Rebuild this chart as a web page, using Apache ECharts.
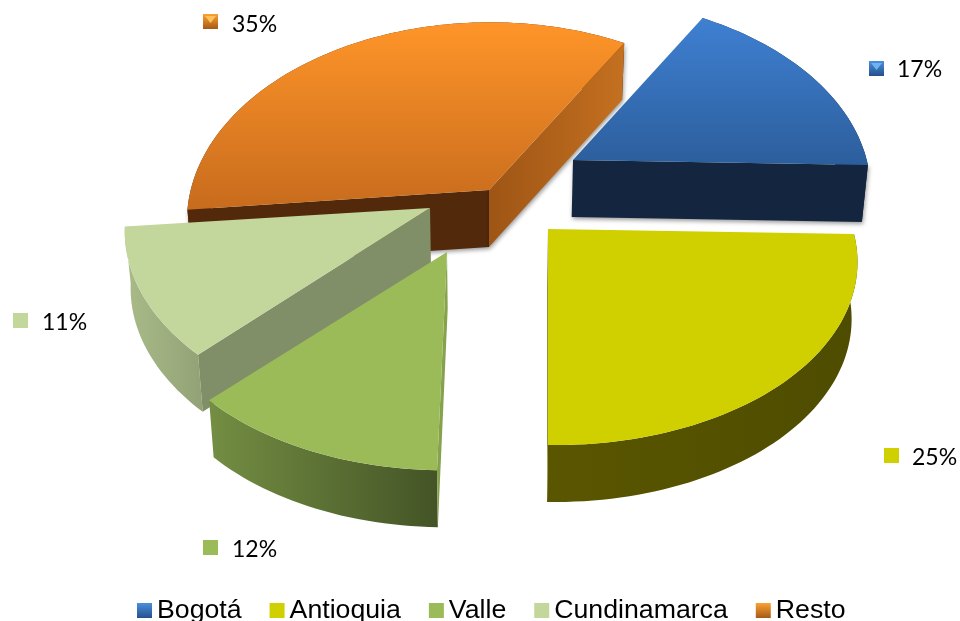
<!DOCTYPE html>
<html>
<head>
<meta charset="utf-8">
<title>Pie</title>
<script src="https://cdn.jsdelivr.net/npm/echarts@6/dist/echarts.min.js"></script>
<style>
html, body { margin: 0; padding: 0; background: #fff; }
#main { width: 960px; height: 621px; }
</style>
</head>
<body>
<div id="main"></div>
<script>
var names = ['Bogotá', 'Antioquia', 'Valle', 'Cundinamarca', 'Resto'];
var shares = [17, 25, 12, 11, 35];

// layout of the tilted disc, in px
var center = [490, 200];
var radiusX = 300, radiusY = 183.6, persp = 0.15, depth = 57;
var vanishX = 490, converge = 0.016, tilt = 5;
var startAngle = 28.8;
var explode = [[83, -40], [58, 29], [-43, 52], [-60, 8], [-1, -10]];
// per slice correction of the perspective
var scaleX = [0.983, 1.02, 1, 1.006, 0.99];
var scaleY = [1.015, 1, 1.01, 1, 1.05];
var slant = [-4.5, 0, -10, 0, -10];
var order = [2, 5, 4, 3, 1];
var keyPos = [[869, 61], [884, 448], [203, 540], [13, 313], [203, 14]];
var textPos = [[897, 70], [912, 458], [232, 550], [42, 323], [232, 25]];

function grad(x2, y2, from, to) {
	return new echarts.graphic.LinearGradient(0, 0, x2, y2, [
		{ offset: 0, color: from },
		{ offset: 1, color: to }
	]);
}

var topFill = [
	grad(0, 1, '#3f80d2', '#2c5e9c'),
	'#d0d000',
	'#9bbb59',
	'#c3d69b',
	grad(0, 1, '#ff9529', '#c76b1d')
];
var wallFill = [
	'#14263f',
	grad(1, 0, '#5a5600', '#4e4c00'),
	grad(1, 0, '#748e43', '#445426'),
	grad(1, 0, '#aabb89', '#92a276'),
	'#52290b'
];
// cut face at the start and at the end of each slice, null when turned away
var cutStart = [null, null, '#86a24d', '#818f69', '#52290b'];
var cutEnd = ['#14263f', '#8a8a40', null, null, grad(1, 0, '#9e5515', '#c47020')];
var keyFill = [
	grad(0, 1, '#4a90de', '#25508a'),
	'#d0d000',
	'#9bbb59',
	'#c3d69b',
	grad(0, 1, '#fba232', '#a65915')
];
var keyGlow = ['#6db3f0', null, null, null, '#ffc15a'];

function project(idx, deg) {
	var rad = deg * Math.PI / 180;
	var a = Math.sin(rad), b = -Math.cos(rad);
	var d = 1 - persp * b;
	return [
		center[0] + explode[idx][0] + scaleX[idx] * radiusX * a / d + slant[idx] * b,
		center[1] + explode[idx][1] + scaleY[idx] * radiusY * b / d + tilt * a
	];
}

function sink(pt) {
	return [pt[0] + (vanishX - pt[0]) * converge, pt[1] + depth];
}

function poly(points, fill, extra) {
	var style = { fill: fill };
	if (extra) {
		for (var k in extra) style[k] = extra[k];
	}
	return { type: 'polygon', shape: { points: points }, style: style, silent: true };
}

function makeRender(idx) {
	return function(params, api) {
		var value = api.value(0);
		var total = 0, before = 0;
		for (var i = 0; i < shares.length; i++) {
			total += shares[i];
			if (i < idx) before += shares[i];
		}
		var from = startAngle + before / total * 360;
		var to = from + value / total * 360;

		var arc = [];
		var steps = Math.ceil((to - from) / 1.5);
		for (var s = 0; s <= steps; s++) {
			arc.push(project(idx, from + (to - from) * s / steps));
		}
		var apex = [center[0] + explode[idx][0], center[1] + explode[idx][1]];
		var first = arc[0], last = arc[arc.length - 1];

		var children = [];
		var shadow = idx === 0 || idx === 4
			? { shadowBlur: 4, shadowOffsetX: 1, shadowOffsetY: 2, shadowColor: 'rgba(0,0,0,0.4)' } : null;
		var wall = arc.concat(arc.map(sink).reverse());
		children.push(poly(wall, wallFill[idx]));
		if (cutStart[idx]) {
			children.push(poly([apex, first, sink(first), sink(apex)], cutStart[idx], shadow));
		}
		if (cutEnd[idx]) {
			children.push(poly([apex, last, sink(last), sink(apex)], cutEnd[idx], shadow));
		}
		children.push(poly([apex].concat(arc), topFill[idx]));

		var kx = keyPos[idx][0], ky = keyPos[idx][1];
		children.push({
			type: 'rect',
			shape: { x: kx, y: ky, width: 15, height: 15 },
			style: { fill: keyFill[idx] }
		});
		if (keyGlow[idx]) {
			children.push(poly([[kx + 2, ky + 2], [kx + 13, ky + 2], [kx + 7.5, ky + 9]], keyGlow[idx]));
		}
		children.push({
			type: 'text',
			style: {
				x: textPos[idx][0],
				y: textPos[idx][1],
				text: value + '%',
				fill: '#000',
				font: '23px Lato',
				align: 'left',
				verticalAlign: 'middle'
			}
		});
		return { type: 'group', children: children };
	};
}

var series = [];
for (var i = 0; i < names.length; i++) {
	series.push({
		type: 'custom',
		name: names[i],
		coordinateSystem: 'none',
		z: order[i],
		renderItem: makeRender(i),
		itemStyle: { color: keyFill[i] },
		data: [[shares[i]]],
		silent: true
	});
}

var myChart = echarts.init(document.getElementById('main'), null, { renderer: 'canvas' });
myChart.setOption({
	animation: false,
	backgroundColor: '#fff',
	legend: {
		data: names,
		left: 132,
		top: 592,
		icon: 'rect',
		itemWidth: 15,
		itemHeight: 15,
		itemGap: 28,
		selectedMode: false,
		textStyle: {
			color: '#000',
			fontFamily: 'Liberation Sans',
			fontSize: 26.7,
			padding: [0, 0, 0, 0]
		}
	},
	series: series
});
</script>
</body>
</html>
